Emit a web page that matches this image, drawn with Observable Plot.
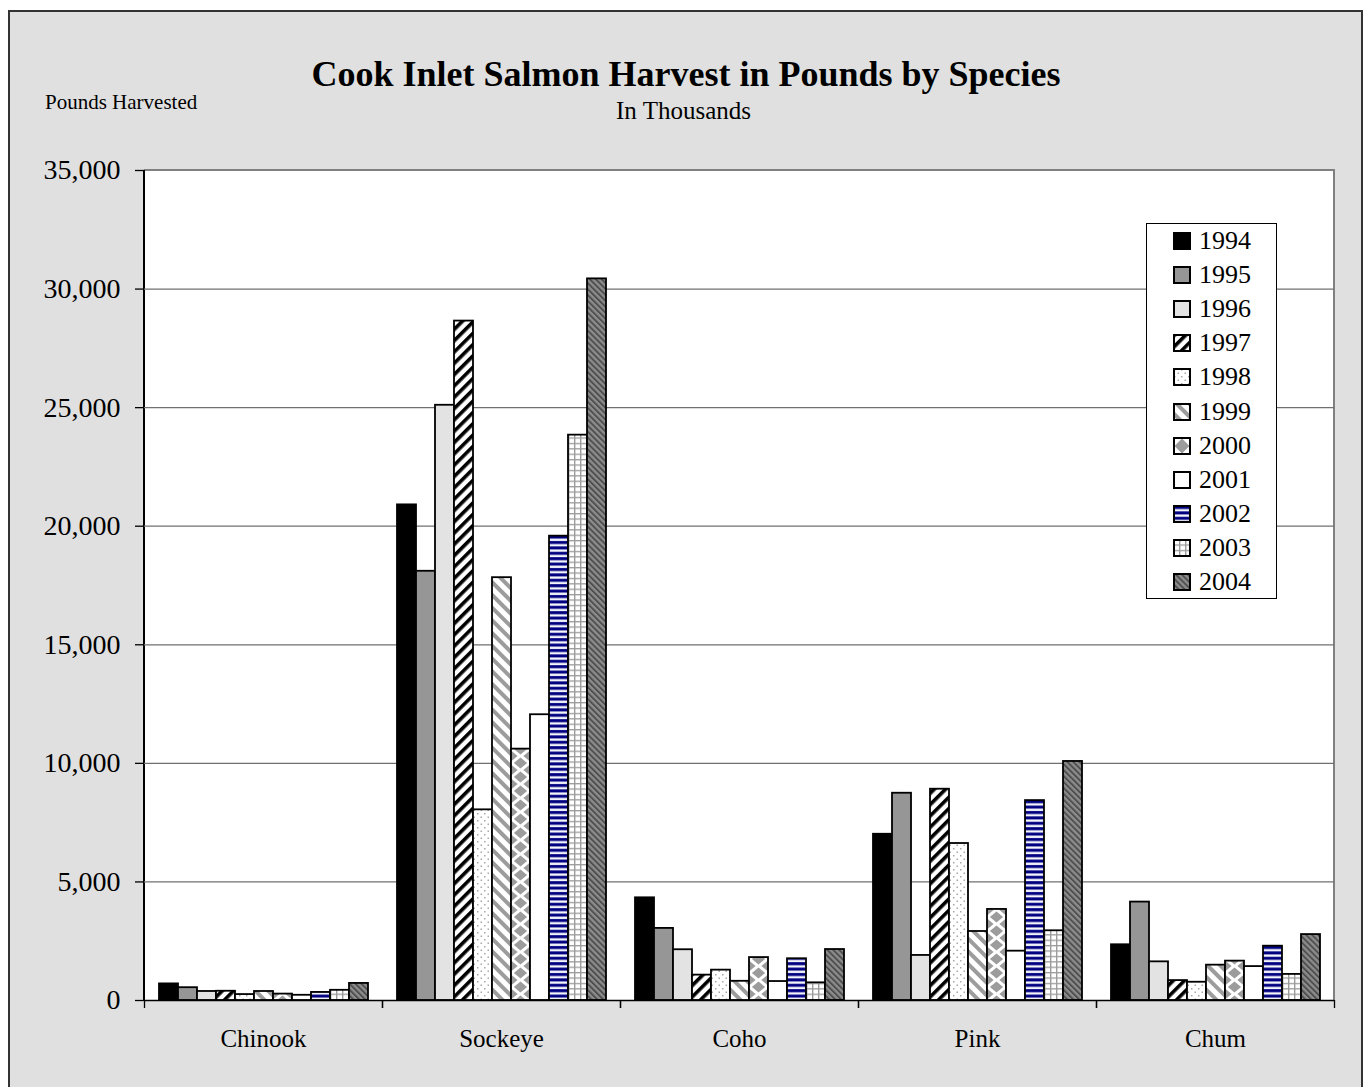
<!DOCTYPE html>
<html>
<head>
<meta charset="utf-8">
<script src="https://cdn.jsdelivr.net/npm/d3@7"></script>
<script src="https://cdn.jsdelivr.net/npm/@observablehq/plot@0.6"></script>
<style>
  html, body { margin: 0; padding: 0; }
  body { width: 1363px; height: 1087px; position: relative; overflow: hidden; background: #fff;
         font-family: "Liberation Serif", "Times New Roman", serif; color: #000; }
  #frame { position: absolute; left: 8px; top: 10px; width: 1351px; height: 1100px;
           background: #e0e0e0; border: 2px solid #333; }
  #plotbg { position: absolute; left: 144px; top: 169px; width: 1191px; height: 832px;
            background: #fff; border-top: 2.5px solid #808080; border-right: 2.5px solid #808080;
            box-sizing: border-box; }
  #yline { position: absolute; left: 143px; top: 170px; width: 1.5px; height: 831px; background: #000; }
  #chart { position: absolute; left: 0; top: 0; }
  .title { position: absolute; left: 0; width: 1372px; text-align: center; font-weight: bold;
           font-size: 36px; line-height: 36px; top: 56px; white-space: nowrap; }
  .subtitle { position: absolute; left: 0; width: 1367px; text-align: center;
              font-size: 25px; line-height: 25px; top: 98px; white-space: nowrap; }
  .ylabel { position: absolute; left: 45px; top: 92px; font-size: 21px; line-height: 21px; white-space: nowrap; }
  #legend { position: absolute; left: 1146px; top: 223px; width: 131px; height: 376px;
            background: #fff; border: 1.5px solid #000; box-sizing: border-box;
            font-family: "Liberation Serif", "Times New Roman", serif; }
  .lrow { position: absolute; left: 0; height: 34px; width: 128px; }
  .lrow svg { position: absolute; left: 26px; top: 8px; }
  .lrow span { position: absolute; left: 52px; top: 4px; font-size: 26px; line-height: 26px; }
</style>
</head>
<body>
<svg width="0" height="0" style="position:absolute;left:0;top:0">
  <defs>
    <pattern id="pat1997" width="8" height="8" patternUnits="userSpaceOnUse" patternTransform="rotate(45)">
      <rect width="8" height="8" fill="#fff"/><rect width="3.6" height="8" fill="#000"/>
    </pattern>
    <pattern id="pat1998" width="7" height="7" patternUnits="userSpaceOnUse">
      <rect width="7" height="7" fill="#fff"/>
      <rect x="1" y="1" width="1.5" height="1.5" fill="#a8a8a8"/>
      <rect x="4.5" y="4.5" width="1.5" height="1.5" fill="#a8a8a8"/>
    </pattern>
    <pattern id="pat1999" width="9" height="9" patternUnits="userSpaceOnUse" patternTransform="rotate(-45)">
      <rect width="9" height="9" fill="#fff"/><rect width="4" height="9" fill="#9c9c9c"/>
    </pattern>
    <pattern id="pat2000" width="19" height="14" patternUnits="userSpaceOnUse"></pattern>
    <pattern id="pat2000L" x="1" y="1" width="16" height="16" patternUnits="userSpaceOnUse">
      <rect width="16" height="16" fill="#fff"/>
      <polygon points="8,0.5 15.5,8 8,15.5 0.5,8" fill="#9c9c9c"/>
    </pattern>
    <pattern id="pat2002" width="6" height="5.4" patternUnits="userSpaceOnUse">
      <rect width="6" height="5.4" fill="#f4f4fb"/><rect y="1" width="6" height="3" fill="#000080"/>
    </pattern>
    <pattern id="pat2003" width="6" height="5.4" patternUnits="userSpaceOnUse">
      <rect width="6" height="5.4" fill="#fff"/>
      <rect x="0" y="0" width="1.4" height="5.4" fill="#9c9c9c"/>
      <rect x="0" y="0" width="6" height="1.3" fill="#9c9c9c"/>
    </pattern>
    <pattern id="pat2004" width="4.2" height="4.2" patternUnits="userSpaceOnUse" patternTransform="rotate(-45)">
      <rect width="4.2" height="4.2" fill="#8c8c8c"/><rect width="1.9" height="4.2" fill="#4f4f4f"/>
    </pattern>
  </defs>
</svg>

<div id="frame"></div>
<div id="plotbg"></div>
<div id="yline"></div>
<div id="chart"></div>
<div class="title">Cook Inlet Salmon Harvest in Pounds by Species</div>
<div class="subtitle">In Thousands</div>
<div class="ylabel">Pounds Harvested</div>
<div id="legend"></div>

<script>
// ---- Data (thousands of pounds) ----
const species = ["Chinook", "Sockeye", "Coho", "Pink", "Chum"];
const years = ["1994", "1995", "1996", "1997", "1998", "1999", "2000", "2001", "2002", "2003", "2004"];

const chinook = [700, 540, 380, 390, 250, 380, 270, 220, 340, 430, 720];
const sockeye = [20900, 18100, 25100, 28650, 8040, 17830, 10600, 12050, 19580, 23840, 30430];
const coho    = [4330, 3040, 2140, 1070, 1280, 810, 1810, 800, 1760, 745, 2150];
const pink    = [7010, 8740, 1900, 8910, 6620, 2910, 3840, 2080, 8430, 2940, 10080];
const chum    = [2350, 4150, 1630, 840, 770, 1490, 1660, 1430, 2290, 1100, 2780];

const yTicks = [0, 5000, 10000, 15000, 20000, 25000, 30000, 35000];
const gridTicks = [5000, 10000, 15000, 20000, 25000, 30000];

// fills per year (solid colours or pattern references)
const yearFills = ["#000000", "#969696", "#e3e3e3", "url(#pat1997)", "url(#pat1998)", "url(#pat1999)",
                   "url(#pat2000)", "#ffffff", "url(#pat2002)", "url(#pat2003)", "url(#pat2004)"];

const seriesBySpecies = {Chinook: chinook, Sockeye: sockeye, Coho: coho, Pink: pink, Chum: chum};
const data = species.flatMap(s => years.map((y, i) => ({species: s, year: y, value: seriesBySpecies[s][i]})));

const fontFamily = '"Liberation Serif", "Times New Roman", serif';

const chart = Plot.plot({
  width: 1363,
  height: 1087,
  marginLeft: 144,
  marginRight: 29,
  marginTop: 170,
  marginBottom: 87,
  style: {background: "transparent", fontFamily, color: "#000", overflow: "visible"},
  fx: {domain: species, padding: 0, label: null},
  x: {domain: years, paddingInner: 0, paddingOuter: 0.705, axis: null, label: null},
  y: {domain: [0, 35000], axis: null, label: null},
  color: {type: "ordinal", domain: years, range: yearFills},
  marks: [
    Plot.gridY(gridTicks, {stroke: "#707070", strokeOpacity: 1, strokeWidth: 1.3}),
    Plot.barY(data, {fx: "species", x: "year", y: "value", fill: "year", stroke: "#000", strokeWidth: 1.8, inset: 0}),
    Plot.ruleY([0], {stroke: "#000", strokeWidth: 1.5}),
    Plot.axisY(yTicks, {anchor: "left", label: null, tickSize: 9, tickPadding: 15, tickFormat: d3.format(","),
                        fontSize: 28, stroke: "#000", strokeWidth: 1.3}),
    Plot.axisFx({anchor: "bottom", label: null, tickSize: 0, tickPadding: 29, fontSize: 25}),
    Plot.axisFx({anchor: "bottom", label: null, tickSize: 8, tickFormat: () => "", dx: -119, strokeWidth: 1.3}),
    Plot.axisFx({anchor: "bottom", label: null, tickSize: 8, tickFormat: () => "", dx: 119, strokeWidth: 1.3})
  ]
});
document.getElementById("chart").appendChild(chart);

// Align the diamond pattern of the 2000 bars with the bars drawn by Plot
const bar2000 = d3.select(chart).selectAll("rect").filter(function () {
  return this.getAttribute("fill") === "url(#pat2000)";
}).node();
if (bar2000) {
  const bx = +bar2000.getAttribute("x"), bw = +bar2000.getAttribute("width");
  const th = 14, hw = 6.6, hh = 5.6;
  const pat = d3.select("#pat2000").attr("x", bx).attr("width", bw).attr("height", th);
  pat.append("rect").attr("width", bw).attr("height", th).attr("fill", "#fff");
  const diamond = (cx, cy) => `${cx},${cy - hh} ${cx + hw},${cy} ${cx},${cy + hh} ${cx - hw},${cy}`;
  [[bw / 2, th / 2], [0, 0], [bw, 0], [0, th], [bw, th]].forEach(([cx, cy]) =>
    pat.append("polygon").attr("points", diamond(cx, cy)).attr("fill", "#9c9c9c"));
}

// ---- Legend ----
const legendFills = yearFills.map(f => f === "url(#pat2000)" ? "url(#pat2000L)" : f);
const legend = d3.select("#legend");
years.forEach((y, i) => {
  const row = legend.append("div").attr("class", "lrow").style("top", `${i * 34.1}px`);
  const sw = row.append("svg").attr("width", 18).attr("height", 18);
  sw.append("rect").attr("x", 1).attr("y", 1).attr("width", 16).attr("height", 16)
    .attr("fill", legendFills[i]).attr("stroke", "#000").attr("stroke-width", 2);
  row.append("span").text(y);
});
</script>
</body>
</html>
